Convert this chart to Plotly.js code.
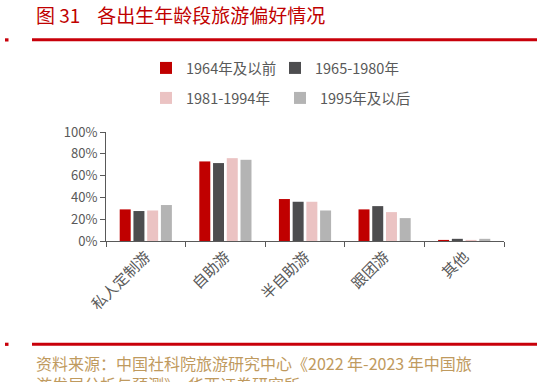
<!DOCTYPE html>
<html>
<head>
<meta charset="utf-8">
<script src="https://cdn.plot.ly/plotly-3.0.1.min.js"></script>
<style>html,body{margin:0;padding:0;background:#fff;}#chart{width:537px;height:382px;}</style>
</head>
<body>
<div id="chart"></div>
<script>
// ---- data ----
const categories = ["私人定制游", "自助游", "半自助游", "跟团游", "其他"];
const seriesNames = ["1964年及以前", "1965-1980年", "1981-1994年", "1995年及以后"];
const s1964 = [0.29, 0.73, 0.385, 0.29, 0.01];
const s1965 = [0.275, 0.715, 0.36, 0.32, 0.02];
const s1981 = [0.28, 0.76, 0.36, 0.265, 0.01];
const s1995 = [0.33, 0.745, 0.28, 0.21, 0.02];
const yTicks = [0, 0.2, 0.4, 0.6, 0.8, 1.0];
const yTickLabels = ["0%", "20%", "40%", "60%", "80%", "100%"];

// ---- layout helpers (pixel -> paper) ----
const W = 537, H = 382;
const L = 106, R = 504, T = 132, B = 241;
const px = x => (x - L) / (R - L);
const py = y => (B - y) / (B - T);

const FONT = '"Noto Sans CJK SC", "Noto Sans", sans-serif';
const colors = ["#c00000", "#4d4d4f", "#ebc3c3", "#b4b4b4"];
const seriesData = [s1964, s1965, s1981, s1995];

const traces = seriesData.map((vals, i) => ({
  type: "bar",
  name: seriesNames[i],
  x: categories,
  y: vals,
  marker: { color: colors[i], line: { width: 0 } },
  legend: i < 2 ? "legend" : "legend2",
  hoverinfo: "skip"
}));

const red = "#c8000a";
const layout = {
  width: W, height: H,
  margin: { l: L, r: W - R, t: T, b: H - B, autoexpand: false },
  paper_bgcolor: "#fff", plot_bgcolor: "#fff",
  font: { family: FONT, color: "#595959", size: 14 },
  barmode: "group",
  bargap: 0.31,
  bargroupgap: 0.2,
  title: {
    text: "图 31\u00a0\u00a0\u00a0\u00a0各出生年龄段旅游偏好情况",
    font: { family: FONT, size: 19, color: "#c00000" },
    xref: "container", yref: "container",
    x: 36 / W, xanchor: "left",
    y: 1 - 16 / H, yanchor: "middle"
  },
  xaxis: {
    type: "category",
    showgrid: false, zeroline: false,
    showline: true, linecolor: "#595959", linewidth: 1,
    ticks: "outside", ticklen: 5, tickcolor: "#595959", tickwidth: 1,
    tickson: "boundaries",
    tickangle: -45,
    tickfont: { family: FONT, size: 15, color: "#595959" },
    fixedrange: true
  },
  yaxis: {
    range: [0, 1],
    tickvals: yTicks, ticktext: yTickLabels,
    showgrid: false, zeroline: false,
    showline: true, linecolor: "#595959", linewidth: 1,
    ticks: "outside", ticklen: 5, tickcolor: "#595959", tickwidth: 1,
    tickfont: { family: FONT, size: 13, color: "#595959" },
    fixedrange: true
  },
  legend: {
    orientation: "h", x: px(146), xanchor: "left", y: py(68), yanchor: "middle",
    entrywidth: 84, bgcolor: "rgba(0,0,0,0)",
    font: { family: FONT, size: 14.5, color: "#595959" },
    itemclick: false, itemdoubleclick: false
  },
  legend2: {
    orientation: "h", x: px(146), xanchor: "left", y: py(98), yanchor: "middle",
    entrywidth: 89, bgcolor: "rgba(0,0,0,0)",
    font: { family: FONT, size: 14.5, color: "#595959" },
    itemclick: false, itemdoubleclick: false
  },
  shapes: [
    { type: "line", xref: "paper", yref: "paper", x0: px(32), x1: px(537), y0: py(39.8), y1: py(39.8), line: { color: red, width: 3 } },
    { type: "rect", xref: "paper", yref: "paper", x0: px(5), x1: px(8.5), y0: py(38.3), y1: py(41.5), fillcolor: red, line: { width: 0 } },
    { type: "line", xref: "paper", yref: "paper", x0: px(32), x1: px(537), y0: py(344.2), y1: py(344.2), line: { color: red, width: 3 } },
    { type: "rect", xref: "paper", yref: "paper", x0: px(5), x1: px(8.5), y0: py(342.7), y1: py(345.9), fillcolor: red, line: { width: 0 } }
  ],
  annotations: [
    {
      xref: "paper", yref: "paper",
      x: px(34), xanchor: "left", y: py(349), yanchor: "top",
      align: "left", showarrow: false,
      text: "资料来源：中国社科院旅游研究中心《2022 年-2023 年中国旅<br>游发展分析与预测》，华西证券研究所",
      font: { family: FONT, size: 16, color: "#bf9a5e" }
    }
  ],
  showlegend: true
};

Plotly.newPlot("chart", traces, layout, { staticPlot: true, displayModeBar: false });
</script>
</body>
</html>
